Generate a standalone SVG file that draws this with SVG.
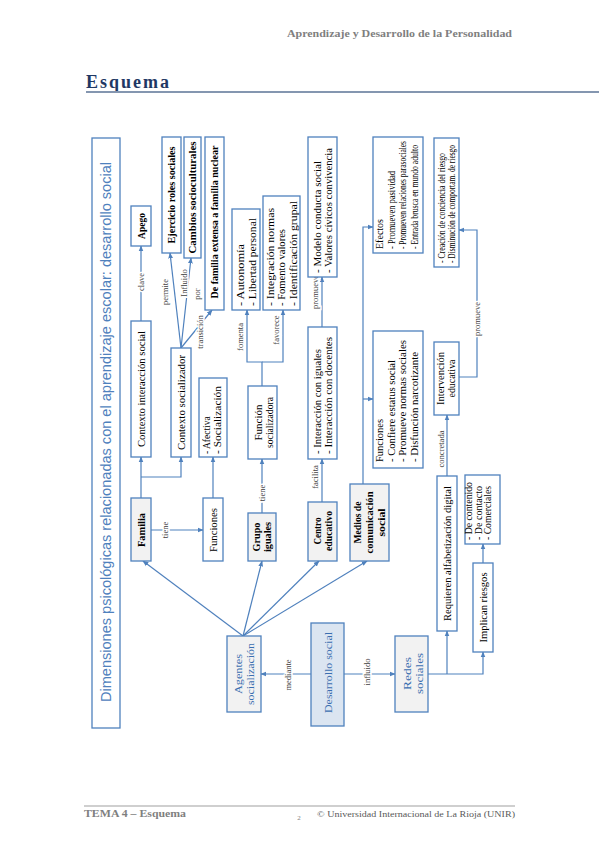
<svg xmlns="http://www.w3.org/2000/svg" width="599" height="848" viewBox="0 0 599 848">
<defs>
<marker id="ah" viewBox="0 0 10 10" refX="9" refY="5" markerWidth="6" markerHeight="6" orient="auto" markerUnits="userSpaceOnUse"><path d="M0,1 L10,5 L0,9 z" fill="#4f81bd"/></marker>
<style>
.bx{fill:#ffffff;stroke:#4f81bd;stroke-width:1.3}
.gb{fill:#f2f2f2;stroke:#4f81bd;stroke-width:1.3}
.db{fill:#dbe5f1;stroke:#4f81bd;stroke-width:1.3}
.c{fill:none;stroke:#4f81bd;stroke-width:1.2;marker-end:url(#ah)}
.t{font-family:"Liberation Serif","DejaVu Serif",serif;font-size:9.5px;fill:#000}
.m{text-anchor:middle}
.b{font-weight:bold}
.bl{fill:#3b6fb0;font-size:10.5px}
.lbl{font-family:"Liberation Serif","DejaVu Serif",serif;font-size:8.5px;fill:#404040;text-anchor:middle;stroke:#fff;stroke-width:3;paint-order:stroke}
.hd{font-family:"Liberation Serif","DejaVu Serif",serif;font-weight:bold;fill:#7f7f7f}
</style>
</defs>
<rect width="599" height="848" fill="#fff"/>

<!-- Header / footer -->
<text class="hd" x="512" y="37" font-size="9.5" text-anchor="end" textLength="225" lengthAdjust="spacingAndGlyphs">Aprendizaje y Desarrollo de la Personalidad</text>
<text x="86" y="88" font-family="Liberation Serif, DejaVu Serif, serif" font-weight="bold" font-size="18" fill="#1f3864" textLength="83" lengthAdjust="spacing">Esquema</text>
<line x1="86" y1="92" x2="599" y2="92" stroke="#8496b0" stroke-width="2"/>
<line x1="84" y1="806" x2="515" y2="806" stroke="#bfbfbf" stroke-width="1.5"/>
<text class="hd" x="84" y="817" font-size="9.5" fill="#595959" textLength="102" lengthAdjust="spacingAndGlyphs">TEMA 4 – Esquema</text>
<text x="299" y="820" font-family="Liberation Serif, serif" font-size="7" fill="#7f7f7f" text-anchor="middle">2</text>
<text x="317" y="817" font-family="Liberation Serif, serif" font-size="9" fill="#595959" textLength="198" lengthAdjust="spacingAndGlyphs">© Universidad Internacional de La Rioja (UNIR)</text>

<!-- Title -->
<g id="titulo">
<rect class="bx" x="92" y="138" width="28" height="590"/>
<text transform="translate(111,432) rotate(-90)" font-family="Liberation Sans, Arial, sans-serif" font-size="15" fill="#4f81bd" text-anchor="middle" textLength="540" lengthAdjust="spacingAndGlyphs">Dimensiones psicológicas relacionadas con el aprendizaje escolar: desarrollo social</text>
</g>

<!-- Connectors -->
<g id="connectors">
<path class="c" d="M141,498 V457"/>
<path class="c" d="M141,477 H181 V457"/>
<path class="c" d="M141,321 V246"/>
<path class="c" d="M181,348 L170,253"/>
<path class="c" d="M181,348 L191,258"/>
<path class="c" d="M181,348 L212,310"/>
<path class="c" d="M151,530 H203"/>
<path class="c" d="M213,498 V457"/>
<path class="c" d="M262,513 V459"/>
<path class="c" d="M262,386 V362 H247 V310"/>
<path class="c" d="M262,362 H283 V310"/>
<path class="c" d="M322,502 V459"/>
<path class="c" d="M322,327 V277"/>
<path class="c" d="M363,484 V227 H373"/>
<path class="c" d="M363,399 H373"/>
<path class="c" d="M243,636 L143,561"/>
<path class="c" d="M243,636 L262,561"/>
<path class="c" d="M243,636 L319,561"/>
<path class="c" d="M243,636 L367,561"/>
<path class="c" d="M311,674 H261"/>
<path class="c" d="M344,674 H395"/>
<path class="c" d="M428,674 H483 V652"/>
<path class="c" d="M447,674 V631"/>
<path class="c" d="M483,563 V544"/>
<path class="c" d="M447,476 V415"/>
<path class="c" d="M459,377 H477 V230 H459"/>
<text class="lbl" transform="translate(144,282) rotate(-90)">clave</text>
<text class="lbl" transform="translate(168,292) rotate(-90)">permite</text>
<text class="lbl" transform="translate(187,283) rotate(-90)">Influido</text>
<text class="lbl" transform="translate(200,294) rotate(-90)">por</text>
<text class="lbl" transform="translate(203,332) rotate(-90)">transición</text>
<text class="lbl" transform="translate(168,530) rotate(-90)">tiene</text>
<text class="lbl" transform="translate(265,493) rotate(-90)">tiene</text>
<text class="lbl" transform="translate(243,337) rotate(-90)">fomenta</text>
<text class="lbl" transform="translate(279,330) rotate(-90)">favorece</text>
<text class="lbl" transform="translate(318,477) rotate(-90)">facilita</text>
<text class="lbl" transform="translate(318,292) rotate(-90)">promueve</text>
<text class="lbl" transform="translate(291,675) rotate(-90)">mediante</text>
<text class="lbl" transform="translate(370,672) rotate(-90)">influido</text>
<text class="lbl" transform="translate(444,449) rotate(-90)">concretada</text>
<text class="lbl" transform="translate(480,319) rotate(-90)">promueve</text>
</g>

<!-- Nodes -->
<g id="apego"><rect class="bx" x="131" y="206" width="20" height="40"/>
<text class="t b m" transform="translate(144.5,226) rotate(-90)">Apego</text></g>

<g id="contexto-interaccion"><rect class="bx" x="131" y="321" width="20" height="136"/>
<text class="t m" transform="translate(144.5,389) rotate(-90)" textLength="116" lengthAdjust="spacingAndGlyphs">Contexto interacción social</text></g>

<g id="familia"><rect class="gb" x="131" y="498" width="20" height="63"/>
<text class="t b m" transform="translate(144.5,530) rotate(-90)" textLength="34" lengthAdjust="spacingAndGlyphs">Familia</text></g>

<g id="ejercicio"><rect class="bx" x="162" y="137" width="19" height="116"/>
<text class="t b m" transform="translate(175,195) rotate(-90)" textLength="97" lengthAdjust="spacingAndGlyphs">Ejercicio roles sociales</text></g>

<g id="cambios"><rect class="bx" x="184" y="137" width="17" height="121"/>
<text class="t b m" transform="translate(196,197.5) rotate(-90)" textLength="112" lengthAdjust="spacingAndGlyphs">Cambios socioculturales</text></g>

<g id="familia-nuclear"><rect class="bx" x="205" y="137" width="19" height="173"/>
<text class="t b m" transform="translate(218,222) rotate(-90)" textLength="153" lengthAdjust="spacingAndGlyphs">De familia extensa a familia nuclear</text></g>

<g id="contexto-socializador"><rect class="bx" x="171" y="348" width="20" height="109"/>
<text class="t m" transform="translate(184.5,402.5) rotate(-90)" textLength="95" lengthAdjust="spacingAndGlyphs">Contexto socializador</text></g>

<g id="funciones-afectiva"><rect class="bx" x="199" y="378" width="28" height="79"/>
<text class="t" transform="translate(210,454) rotate(-90)">- Afectiva</text>
<text class="t" transform="translate(220.5,454) rotate(-90)" textLength="68" lengthAdjust="spacingAndGlyphs">- Socialización</text></g>

<g id="funciones"><rect class="bx" x="203" y="498" width="20" height="63"/>
<text class="t m" transform="translate(216.5,530) rotate(-90)" textLength="44" lengthAdjust="spacingAndGlyphs">Funciones</text></g>

<g id="autonomia"><rect class="bx" x="232" y="209" width="28" height="101"/>
<text class="t" transform="translate(244,306) rotate(-90)" font-size="10" textLength="62" lengthAdjust="spacingAndGlyphs">- Autonomía</text>
<text class="t" transform="translate(255.5,306) rotate(-90)" font-size="10" textLength="88" lengthAdjust="spacingAndGlyphs">- Libertad personal</text></g>

<g id="integracion"><rect class="bx" x="263" y="196" width="37" height="114"/>
<text class="t" transform="translate(273.5,306) rotate(-90)" font-size="10" textLength="98" lengthAdjust="spacingAndGlyphs">- Integración normas</text>
<text class="t" transform="translate(285,306) rotate(-90)" font-size="10" textLength="77" lengthAdjust="spacingAndGlyphs">- Fomento valores</text>
<text class="t" transform="translate(296.5,306) rotate(-90)" font-size="10" textLength="105" lengthAdjust="spacingAndGlyphs">- Identificación grupal</text></g>

<g id="funcion-socializadora"><rect class="bx" x="248" y="386" width="29" height="73"/>
<text class="t m" transform="translate(262,422.5) rotate(-90)" font-size="10" textLength="36" lengthAdjust="spacingAndGlyphs">Función</text>
<text class="t m" transform="translate(273,422.5) rotate(-90)" font-size="10" textLength="51" lengthAdjust="spacingAndGlyphs">socializadora</text></g>

<g id="grupo-iguales"><rect class="gb" x="248" y="513" width="28" height="48"/>
<text class="t b m" transform="translate(260,537) rotate(-90)" textLength="29" lengthAdjust="spacingAndGlyphs">Grupo</text>
<text class="t b m" transform="translate(270.5,537) rotate(-90)" textLength="30" lengthAdjust="spacingAndGlyphs">iguales</text></g>

<g id="modelo"><rect class="bx" x="308" y="137" width="29" height="140"/>
<text class="t" transform="translate(320.5,273) rotate(-90)" textLength="112" lengthAdjust="spacingAndGlyphs">- Modelo conducta social</text>
<text class="t" transform="translate(331.5,273) rotate(-90)" textLength="125" lengthAdjust="spacingAndGlyphs">- Valores cívicos convivencia</text></g>

<g id="interaccion"><rect class="bx" x="308" y="327" width="29" height="132"/>
<text class="t" transform="translate(320.5,454) rotate(-90)" textLength="105" lengthAdjust="spacingAndGlyphs">- Interacción con iguales</text>
<text class="t" transform="translate(331.5,454) rotate(-90)" textLength="117" lengthAdjust="spacingAndGlyphs">- Interacción con docentes</text></g>

<g id="centro-educativo"><rect class="gb" x="308" y="502" width="29" height="59"/>
<text class="t b m" transform="translate(320.5,531) rotate(-90)" textLength="27" lengthAdjust="spacingAndGlyphs">Centro</text>
<text class="t b m" transform="translate(331.5,531) rotate(-90)" textLength="40" lengthAdjust="spacingAndGlyphs">educativo</text></g>

<g id="medios"><rect class="gb" x="350" y="484" width="39" height="77"/>
<text class="t b m" transform="translate(360.5,522.5) rotate(-90)" textLength="42" lengthAdjust="spacingAndGlyphs">Medios de</text>
<text class="t b m" transform="translate(373,522.5) rotate(-90)" textLength="62" lengthAdjust="spacingAndGlyphs">comunicación</text>
<text class="t b m" transform="translate(385,522.5) rotate(-90)" textLength="28" lengthAdjust="spacingAndGlyphs">social</text></g>

<g id="efectos"><rect class="bx" x="373" y="137" width="50" height="116"/>
<text class="t" transform="translate(383,249) rotate(-90)" font-size="8.5" textLength="30" lengthAdjust="spacingAndGlyphs">Efectos</text>
<text class="t" transform="translate(394.5,249) rotate(-90)" font-size="8.5" textLength="78" lengthAdjust="spacingAndGlyphs">- Promueven pasividad</text>
<text class="t" transform="translate(406,249) rotate(-90)" font-size="8.5" textLength="108" lengthAdjust="spacingAndGlyphs">- Promueven relaciones parasociales</text>
<text class="t" transform="translate(417.5,249) rotate(-90)" font-size="8.5" textLength="104" lengthAdjust="spacingAndGlyphs">- Entrada brusca en mundo adulto</text></g>

<g id="funciones-medios"><rect class="bx" x="373" y="331" width="50" height="137"/>
<text class="t" transform="translate(383,462) rotate(-90)" textLength="43" lengthAdjust="spacingAndGlyphs">Funciones</text>
<text class="t" transform="translate(394.5,462) rotate(-90)" textLength="102" lengthAdjust="spacingAndGlyphs">- Confiere estatus social</text>
<text class="t" transform="translate(406,462) rotate(-90)" textLength="122" lengthAdjust="spacingAndGlyphs">- Promueve normas sociales</text>
<text class="t" transform="translate(417.5,462) rotate(-90)" textLength="110" lengthAdjust="spacingAndGlyphs">- Disfunción narcotizante</text></g>

<g id="creacion"><rect class="bx" x="434" y="138" width="25" height="129"/>
<text class="t" transform="translate(444.5,263) rotate(-90)" font-size="8.5" textLength="110" lengthAdjust="spacingAndGlyphs">- Creación de conciencia del riesgo</text>
<text class="t" transform="translate(455,263) rotate(-90)" font-size="8.5" textLength="118" lengthAdjust="spacingAndGlyphs">- Disminución de comportam. de riesgo</text></g>

<g id="intervencion"><rect class="bx" x="434" y="342" width="25" height="73"/>
<text class="t m" transform="translate(444,378.5) rotate(-90)" textLength="53" lengthAdjust="spacingAndGlyphs">Intervención</text>
<text class="t m" transform="translate(455,378.5) rotate(-90)" textLength="38" lengthAdjust="spacingAndGlyphs">educativa</text></g>

<g id="requieren"><rect class="bx" x="437" y="476" width="20" height="155"/>
<text class="t m" transform="translate(450.5,553.5) rotate(-90)" textLength="135" lengthAdjust="spacingAndGlyphs">Requieren alfabetización digital</text></g>

<g id="riesgos-tipos"><rect class="bx" x="465" y="475" width="35" height="69"/>
<text class="t" transform="translate(472,540) rotate(-90)" font-size="9" textLength="58" lengthAdjust="spacingAndGlyphs">- De contenido</text>
<text class="t" transform="translate(481.5,540) rotate(-90)" font-size="9" textLength="54" lengthAdjust="spacingAndGlyphs">- De contacto</text>
<text class="t" transform="translate(491,540) rotate(-90)" font-size="9" textLength="54" lengthAdjust="spacingAndGlyphs">- Comerciales</text></g>

<g id="implican"><rect class="bx" x="473" y="563" width="20" height="89"/>
<text class="t m" transform="translate(486.5,607.5) rotate(-90)" textLength="70" lengthAdjust="spacingAndGlyphs">Implican riesgos</text></g>

<g id="agentes"><rect class="gb" x="227" y="636" width="34" height="76"/>
<text class="t m bl" transform="translate(242,674) rotate(-90)" textLength="40" lengthAdjust="spacingAndGlyphs">Agentes</text>
<text class="t m bl" transform="translate(254,674) rotate(-90)" textLength="62" lengthAdjust="spacingAndGlyphs">socialización</text></g>

<g id="desarrollo"><rect class="db" x="311" y="623" width="33" height="103"/>
<text class="t m bl" transform="translate(331.5,672.5) rotate(-90)" font-size="11" textLength="81" lengthAdjust="spacingAndGlyphs">Desarrollo social</text></g>

<g id="redes"><rect class="gb" x="395" y="636" width="33" height="76"/>
<text class="t m bl" transform="translate(411,673.5) rotate(-90)" textLength="33" lengthAdjust="spacingAndGlyphs">Redes</text>
<text class="t m bl" transform="translate(422.5,673.5) rotate(-90)" textLength="41" lengthAdjust="spacingAndGlyphs">sociales</text></g>
</svg>
